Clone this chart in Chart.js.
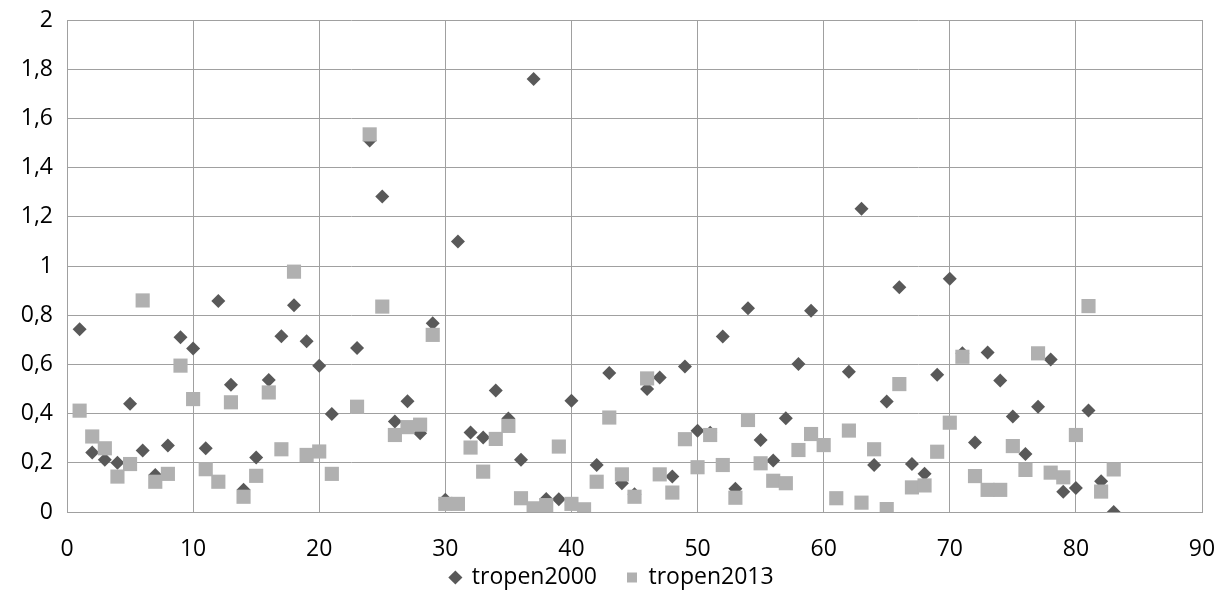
<!DOCTYPE html>
<html>
<head>
<meta charset="utf-8">
<script src="https://cdn.jsdelivr.net/npm/chart.js@4"></script>
<style>
  html, body { margin: 0; padding: 0; background: #ffffff; }
  #wrap { width: 1216px; height: 603px; }
</style>
</head>
<body>
<div id="wrap"><canvas id="c" width="1216" height="603"></canvas></div>
<script>
const xValues = [1,2,3,4,5,6,7,8,9,10,11,12,13,14,15,16,17,18,19,20,21,22,23,24,25,26,27,28,29,30,31,32,33,34,35,36,37,38,39,40,41,42,43,44,45,46,47,48,49,50,51,52,53,54,55,56,57,58,59,60,61,62,63,64,65,66,67,68,69,70,71,72,73,74,75,76,77,78,79,80,81,82,83];

const tropen2000 = [0.743,0.242,0.212,0.20,0.44,0.25,0.15,0.27,0.71,0.665,
  0.259,0.858,0.517,0.09,0.222,0.537,0.714,0.84,0.694,0.595,
  0.398,null,0.667,1.51,1.283,0.368,0.45,0.32,0.767,0.05,
  1.10,0.323,0.303,0.494,0.38,0.212,1.76,0.053,0.052,0.452,
  null,0.191,0.565,0.117,0.072,0.50,0.547,0.144,0.591,0.33,
  0.322,0.713,0.095,0.828,0.293,0.209,0.381,0.602,0.818,null,
  null,0.57,1.233,0.191,0.449,0.914,0.195,0.155,0.558,0.948,
  0.645,0.283,0.648,0.535,0.388,0.236,0.428,0.62,0.082,0.098,
  0.413,0.125,0.0];

const tropen2013 = [0.412,0.307,0.259,0.144,0.195,0.86,0.123,0.155,0.595,0.459,
  0.174,0.123,0.446,0.062,0.147,0.486,0.255,0.977,0.232,0.246,
  0.155,null,0.428,1.535,0.835,0.313,0.345,0.355,0.72,0.033,
  0.033,0.262,0.164,0.297,0.35,0.056,0.015,0.028,0.266,0.033,
  0.011,0.123,0.384,0.153,0.062,0.543,0.153,0.079,0.296,0.182,
  0.313,0.191,0.058,0.374,0.198,0.127,0.117,0.252,0.317,0.272,
  0.056,0.331,0.038,0.255,0.012,0.52,0.10,0.108,0.245,0.363,
  0.631,0.146,0.09,0.09,0.268,0.171,0.645,0.16,0.141,0.313,
  0.837,0.083,0.173];

const seriesNames = ['tropen2000', 'tropen2013'];
const xTickLabels = ['0','10','20','30','40','50','60','70','80','90'];
const yTickLabels = ['0','0,2','0,4','0,6','0,8','1','1,2','1,4','1,6','1,8','2'];

function toPoints(vals) {
  const pts = [];
  for (let i = 0; i < xValues.length; i++) {
    if (vals[i] !== null && vals[i] !== undefined) pts.push({ x: xValues[i], y: vals[i] });
  }
  return pts;
}

const FONT = "'Open Sans', 'DejaVu Sans', sans-serif";
const GRID = '#a0a0a0';
const LEGEND_PAD = 30;

// Wide spacing between legend items (padding) with a small vertical footprint;
// the legend box is then extended upward so its row sits where the reference has it.
const legendTweak = {
  id: 'legendTweak',
  beforeUpdate(chart) {
    const lg = chart.legend;
    if (lg && !lg._patched) {
      const origFit = lg.fit.bind(lg);
      lg.fit = function () {
        origFit();
        this.height = 38;
      };
      lg._patched = true;
    }
  },
  afterLayout(chart) {
    const lg = chart.legend;
    if (lg) {
      lg.top = 536;
      lg.bottom = chart.height;
      lg.height = lg.bottom - lg.top;
      lg.left += 11; lg.right += 11;
    }
  }
};

new Chart(document.getElementById('c'), {
  type: 'scatter',
  data: {
    datasets: [
      {
        label: seriesNames[0],
        data: toPoints(tropen2000),
        pointStyle: 'rectRot',
        pointRadius: 7,
        pointHoverRadius: 7,
        backgroundColor: '#595959',
        borderColor: '#595959',
        borderWidth: 0,
        order: 2
      },
      {
        label: seriesNames[1],
        data: toPoints(tropen2013),
        pointStyle: 'rect',
        pointRadius: 10,
        pointHoverRadius: 10,
        backgroundColor: '#b0b0b0',
        borderColor: '#b0b0b0',
        borderWidth: 0,
        order: 1
      }
    ]
  },
  plugins: [legendTweak],
  options: {
    responsive: false,
    animation: false,
    layout: { padding: { left: 0, right: 14, top: 20, bottom: 0 } },
    plugins: {
      tooltip: { enabled: false },
      legend: {
        position: 'bottom',
        labels: {
          usePointStyle: true,
          boxWidth: 10,
          boxHeight: 10,
          padding: LEGEND_PAD,
          color: '#000',
          font: { family: FONT, size: 23 },
          sort: (a, b) => a.datasetIndex - b.datasetIndex
        }
      }
    },
    scales: {
      x: {
        type: 'linear',
        min: 0,
        max: 90,
        ticks: {
          stepSize: 10,
          padding: 24,
          color: '#000',
          font: { family: FONT, size: 23 },
          callback: (v, i) => xTickLabels[i]
        },
        grid: { color: GRID, lineWidth: 1, drawTicks: false },
        border: { color: GRID, width: 1 },
        afterFit: (axis) => { axis.height = 53; axis.paddingLeft = 0; axis.paddingRight = 0; }
      },
      y: {
        type: 'linear',
        min: 0,
        max: 2,
        ticks: {
          stepSize: 0.2,
          padding: 14,
          color: '#000',
          font: { family: FONT, size: 23 },
          callback: (v, i) => yTickLabels[i]
        },
        grid: { color: GRID, lineWidth: 1, drawTicks: false },
        border: { color: GRID, width: 1 },
        afterFit: (axis) => { axis.width = 67; axis.paddingTop = 0; axis.paddingBottom = 0; }
      }
    }
  }
});
</script>
</body>
</html>
